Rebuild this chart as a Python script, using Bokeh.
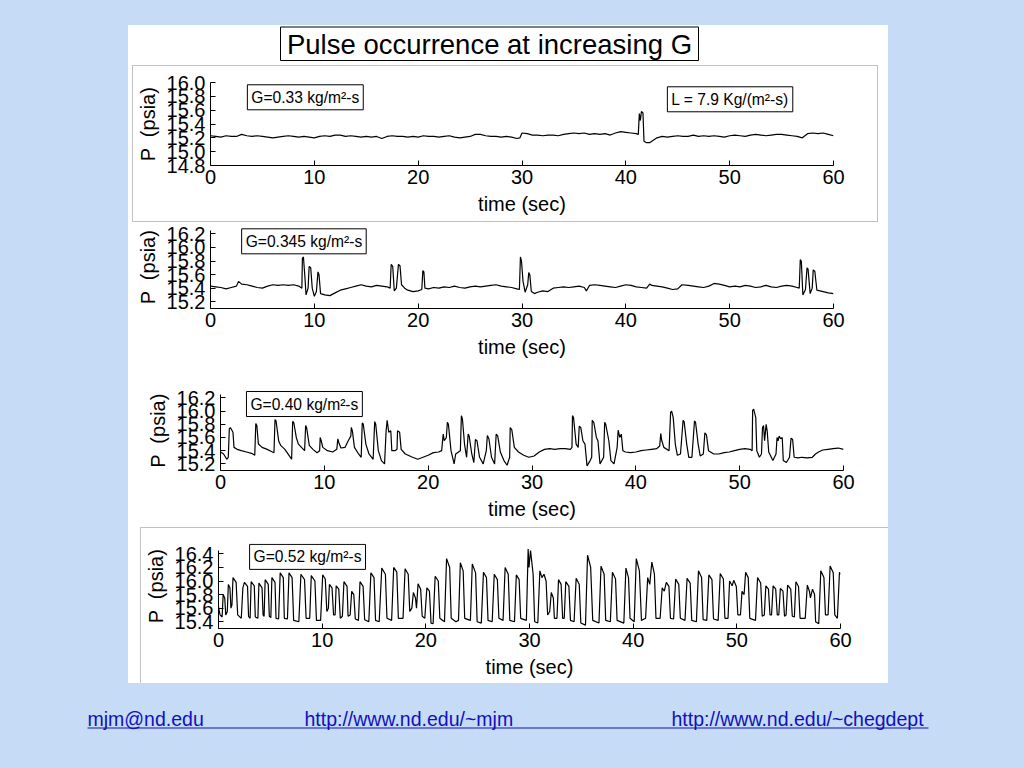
from bokeh.plotting import figure
from bokeh.layouts import column, row
from bokeh.models import (Range1d, FixedTicker, PrintfTickFormatter, Label, Spacer)
from bokeh.embed import file_html
from bokeh.resources import INLINE
from bokeh.core.properties import value

# ---------------- data ----------------
x_ticks = [0, 10, 20, 30, 40, 50, 60]
y_ticks_1 = [14.8, 15.0, 15.2, 15.4, 15.6, 15.8, 16.0]
y_ticks_2 = [15.2, 15.4, 15.6, 15.8, 16.0, 16.2]
y_ticks_3 = [15.2, 15.4, 15.6, 15.8, 16.0, 16.2]
y_ticks_4 = [15.4, 15.6, 15.8, 16.0, 16.2, 16.4]

title_text = "Pulse occurrence at increasing G"
labels_G = ["G=0.33 kg/m\u00b2-s", "G=0.345 kg/m\u00b2-s",
            "G=0.40 kg/m\u00b2-s", "G=0.52 kg/m\u00b2-s"]
label_L = "L = 7.9 Kg/(m\u00b2-s)"
footer_items = ["mjm@nd.edu", "http://www.nd.edu/~mjm", "http://www.nd.edu/~chegdept"]

# G = 0.33 kg/m2-s  (time s, pressure psia)
g033 = [(0,15.23),(0.5,15.22),(1,15.21),(1.5,15.23),(2,15.22),(2.5,15.22),(3,15.25),(3.5,15.23),
        (4,15.22),(4.5,15.23),(5,15.22),(5.5,15.21),(6,15.2),(6.5,15.21),(7,15.22),(7.5,15.23),
        (8,15.22),(8.5,15.21),(9,15.22),(9.5,15.21),(10,15.2),(10.5,15.22),(11,15.23),(11.5,15.22),
        (12,15.24),(12.5,15.24),(13,15.22),(13.5,15.23),(14,15.22),(14.5,15.21),(15,15.22),(15.5,15.21),
        (16,15.22),(16.5,15.19),(17,15.22),(17.5,15.23),(18,15.22),(18.5,15.22),(19,15.21),(19.5,15.22),
        (20,15.21),(20.5,15.23),(21,15.22),(21.5,15.22),(22,15.21),(22.5,15.22),(23,15.23),(23.5,15.21),
        (24,15.2),(24.5,15.21),(25,15.22),(25.5,15.25),(26,15.25),(26.5,15.23),(27,15.22),(27.5,15.22),
        (28,15.21),(28.5,15.22),(29,15.21),(29.5,15.19),(29.8,15.2),(30,15.27),(30.5,15.26),(31,15.24),
        (31.5,15.24),(32,15.23),(32.5,15.24),(33,15.24),(33.5,15.23),(34,15.25),(34.5,15.26),(35,15.27),
        (35.5,15.26),(36,15.27),(36.5,15.25),(37,15.26),(37.5,15.25),(38,15.26),(38.5,15.24),(39,15.27),
        (39.5,15.29),(40,15.28),(40.5,15.27),(41,15.26),(41.2,15.25),(41.3,15.55),(41.4,15.45),(41.5,15.58),
        (41.65,15.56),(41.75,15.15),(42,15.13),(42.3,15.13),(42.5,15.15),(43,15.2),(43.5,15.22),(44,15.21),
        (44.5,15.22),(45,15.23),(45.5,15.22),(46,15.22),(46.5,15.24),(47,15.22),(47.5,15.23),(48,15.22),
        (48.5,15.23),(49,15.22),(49.5,15.21),(50,15.23),(50.5,15.24),(51,15.23),(51.5,15.22),(52,15.24),
        (52.5,15.25),(53,15.24),(53.5,15.23),(54,15.24),(54.5,15.25),(55,15.25),(55.5,15.24),(56,15.23),
        (56.5,15.22),(57,15.2),(57.5,15.26),(58,15.27),(58.5,15.26),(59,15.27),(59.5,15.25),(60,15.23)]

# G = 0.345 kg/m2-s
g0345 = [(0,15.43),(0.5,15.42),(1,15.41),(1.5,15.39),(2,15.41),(2.5,15.43),(2.7,15.5),(3,15.46),
         (3.5,15.45),(4,15.43),(4.5,15.41),(5,15.4),(5.5,15.43),(6,15.45),(6.5,15.44),(7,15.45),
         (7.5,15.44),(8,15.45),(8.5,15.43),(8.8,15.4),(8.85,15.84),(8.95,15.86),(9.1,15.55),(9.2,15.3),
         (9.4,15.4),(9.5,15.72),(9.65,15.7),(9.8,15.4),(10.0,15.28),(10.2,15.35),(10.35,15.64),(10.45,15.6),
         (10.6,15.32),(11,15.3),(11.5,15.29),(12,15.33),(12.5,15.37),(13,15.39),(13.5,15.41),(14,15.43),
         (14.5,15.45),(15,15.43),(15.5,15.42),(16,15.44),(16.5,15.43),(17,15.42),(17.3,15.4),(17.4,15.75),
         (17.55,15.72),(17.7,15.36),(17.9,15.4),(18.1,15.75),(18.25,15.73),(18.4,15.45),(18.7,15.4),(19,15.37),
         (19.5,15.35),(20,15.36),(20.35,15.38),(20.45,15.66),(20.55,15.64),(20.65,15.4),(21,15.39),(21.5,15.41),
         (22,15.4),(22.5,15.42),(23,15.41),(23.5,15.43),(24,15.41),(24.5,15.4),(25,15.42),(25.5,15.43),
         (26,15.42),(26.5,15.43),(27,15.44),(27.5,15.45),(28,15.43),(28.5,15.42),(29,15.41),(29.5,15.39),
         (29.75,15.38),(29.85,15.86),(29.95,15.8),(30.1,15.5),(30.3,15.34),(30.55,15.45),(30.65,15.63),(30.75,15.6),
         (30.9,15.35),(31.2,15.32),(31.5,15.34),(32,15.36),(32.5,15.35),(33,15.4),(33.5,15.41),(34,15.42),
         (34.5,15.41),(35,15.42),(35.5,15.43),(36,15.41),(36.2,15.36),(36.5,15.44),(37,15.45),(37.5,15.44),
         (38,15.43),(38.5,15.42),(39,15.41),(39.5,15.43),(40,15.45),(40.5,15.44),(41,15.42),(41.5,15.41),
         (42,15.4),(42.3,15.46),(42.5,15.44),(43,15.43),(43.5,15.42),(44,15.4),(44.5,15.38),(45,15.39),
         (45.4,15.45),(46,15.44),(46.5,15.43),(47,15.42),(47.5,15.41),(48,15.43),(48.5,15.47),(49,15.46),
         (49.5,15.44),(50,15.42),(50.5,15.43),(51,15.42),(51.5,15.44),(52,15.43),(52.5,15.41),(53,15.42),
         (53.5,15.44),(54,15.42),(54.5,15.41),(55,15.43),(55.5,15.44),(56,15.43),(56.5,15.41),(56.7,15.4),
         (56.8,15.82),(56.9,15.8),(57.05,15.3),(57.3,15.38),(57.45,15.7),(57.55,15.68),(57.75,15.32),(57.95,15.4),
         (58.05,15.67),(58.2,15.65),(58.4,15.37),(58.7,15.36),(59,15.35),(59.5,15.33),(60,15.32)]

# G = 0.40 kg/m2-s
g040 = [(0,15.38),(0.3,15.35),(0.6,15.27),(0.75,15.3),(0.85,15.73),(0.95,15.75),(1.2,15.68),(1.3,15.45),
        (1.6,15.42),(2,15.4),(2.5,15.38),(3,15.36),(3.3,15.33),(3.4,15.81),(3.5,15.78),(3.65,15.5),
        (4,15.45),(4.5,15.42),(5,15.38),(5.15,15.37),(5.25,15.87),(5.35,15.85),(5.6,15.55),(5.8,15.48),
        (6.2,15.42),(6.6,15.33),(6.85,15.27),(6.95,15.84),(7.05,15.83),(7.3,15.6),(7.5,15.5),(7.8,15.45),
        (8.1,15.4),(8.2,15.78),(8.3,15.74),(8.55,15.48),(8.9,15.42),(9.3,15.37),(9.55,15.4),(9.6,15.6),
        (9.7,15.55),(9.85,15.45),(10.3,15.4),(10.8,15.38),(11.2,15.42),(11.3,15.58),(11.4,15.52),(11.6,15.44),
        (12,15.45),(12.3,15.55),(12.55,15.62),(12.6,15.75),(12.7,15.7),(12.9,15.45),(13.3,15.35),(13.55,15.3),
        (13.65,15.82),(13.75,15.8),(14.0,15.5),(14.3,15.35),(14.7,15.27),(14.85,15.84),(14.95,15.8),(15.2,15.4),
        (15.5,15.25),(15.8,15.2),(15.95,15.7),(16.05,15.86),(16.2,15.68),(16.4,15.7),(16.5,15.4),(16.8,15.4),
        (17.0,15.42),(17.05,15.7),(17.25,15.68),(17.4,15.42),(17.8,15.35),(18.5,15.3),(19,15.27),(19.5,15.3),
        (20,15.33),(20.5,15.37),(21,15.38),(21.3,15.4),(21.45,15.65),(21.55,15.55),(21.75,15.6),(21.85,15.83),
        (21.95,15.8),(22.2,15.4),(22.5,15.2),(22.65,15.35),(23.1,15.4),(23.2,15.93),(23.3,15.88),(23.5,15.5),
        (23.7,15.3),(23.85,15.65),(23.95,15.62),(24.2,15.35),(24.4,15.22),(24.55,15.57),(24.7,15.55),(24.95,15.3),
        (25.3,15.2),(25.6,15.4),(25.7,15.63),(25.85,15.58),(26.1,15.3),(26.4,15.2),(26.55,15.65),(26.7,15.62),
        (26.95,15.38),(27.3,15.25),(27.6,15.18),(27.85,15.3),(27.9,15.75),(28.05,15.72),(28.3,15.45),(28.7,15.38),
        (29.2,15.33),(29.7,15.3),(30.2,15.32),(30.7,15.38),(31.2,15.42),(31.7,15.43),(32.2,15.42),(32.7,15.43),
        (33.2,15.43),(33.7,15.42),(33.85,15.45),(33.9,15.93),(34.0,15.9),(34.25,15.5),(34.45,15.45),(34.55,15.77),
        (34.7,15.75),(34.9,15.55),(35.1,15.5),(35.3,15.17),(35.6,15.25),(35.75,15.3),(35.8,15.86),(35.95,15.83),
        (36.2,15.6),(36.35,15.55),(36.55,15.2),(36.9,15.3),(37.0,15.83),(37.1,15.8),(37.4,15.55),(37.6,15.25),
        (37.9,15.2),(38.2,15.45),(38.3,15.71),(38.45,15.6),(38.6,15.65),(38.75,15.4),(39.0,15.38),(39.5,15.37),
        (40,15.38),(40.5,15.4),(41,15.41),(41.5,15.42),(42,15.43),(42.3,15.47),(42.4,15.66),(42.5,15.55),
        (42.7,15.45),(43.2,15.4),(43.35,15.98),(43.45,16.0),(43.6,15.9),(43.8,15.5),(44.0,15.33),(44.3,15.35),
        (44.55,15.86),(44.65,15.84),(44.9,15.5),(45.1,15.3),(45.4,15.3),(45.65,15.85),(45.75,15.83),(46.0,15.5),
        (46.2,15.32),(46.5,15.35),(46.65,15.67),(46.8,15.64),(47.0,15.4),(47.5,15.35),(48,15.35),(48.5,15.37),
        (49,15.38),(49.5,15.4),(50,15.42),(50.5,15.43),(51,15.42),(51.2,15.4),(51.25,16.01),(51.35,16.03),
        (51.55,15.9),(51.65,15.4),(51.9,15.3),(52.1,15.35),(52.2,15.75),(52.3,15.78),(52.4,15.55),(52.55,15.8),
        (52.65,15.7),(52.8,15.38),(53.2,15.25),(53.5,15.35),(53.6,15.6),(53.7,15.55),(53.8,15.62),(53.95,15.58),
        (54.1,15.6),(54.2,15.25),(54.5,15.22),(54.8,15.3),(54.95,15.59),(55.1,15.57),(55.25,15.3),(55.6,15.29),
        (56,15.3),(56.5,15.29),(57,15.3),(57.3,15.35),(57.6,15.38),(58,15.41),(58.5,15.42),(59,15.43),
        (59.5,15.44),(60,15.42)]

# G = 0.52 kg/m2-s
g052 = [(0.0,15.62),(0.15,15.5),(0.35,15.47),(0.45,15.8),(0.6,15.75),(0.7,15.5),(0.85,15.55),(0.95,15.95),
        (1.1,15.9),(1.2,15.6),(1.3,15.65),(1.4,16.05),(1.7,15.98),(1.85,15.5),(2.2,15.45),(2.35,15.9),
        (2.5,15.98),(2.8,15.92),(2.9,15.48),(3.05,15.45),(3.15,15.99),(3.45,15.93),(3.55,15.47),(3.8,15.45),
        (3.9,15.97),(4.2,15.9),(4.3,15.5),(4.4,15.48),(4.5,16.02),(4.8,15.95),(4.9,15.48),(5.05,15.46),
        (5.15,16.05),(5.45,15.98),(5.55,15.45),(5.8,15.44),(5.95,16.12),(6.25,16.05),(6.35,15.45),(6.65,15.44),
        (6.8,16.12),(7.1,16.05),(7.25,15.42),(7.75,15.4),(7.95,16.1),(8.3,16.02),(8.45,15.45),(8.8,15.45),
        (8.95,16.08),(9.3,16.0),(9.45,15.42),(9.85,15.42),(10.05,16.09),(10.3,16.03),(10.45,15.55),(10.6,15.6),
        (10.7,15.95),(10.95,15.9),(11.1,15.5),(11.25,15.5),(11.35,15.93),(11.6,15.88),(11.75,15.45),(11.95,15.48),
        (12.1,15.99),(12.4,15.92),(12.5,15.48),(12.7,15.5),(12.85,15.85),(13.05,15.8),(13.2,15.44),(13.5,15.42),
        (13.65,15.99),(13.95,15.92),(14.1,15.43),(14.5,15.4),(14.7,16.12),(15.0,16.05),(15.15,15.42),(15.5,15.4),
        (15.75,16.19),(16.1,16.1),(16.25,15.45),(16.7,15.42),(16.9,16.2),(17.2,16.13),(17.35,15.45),(17.8,15.45),
        (18.0,16.18),(18.3,16.1),(18.45,15.55),(18.65,15.6),(18.8,15.83),(19.0,15.75),(19.1,15.6),(19.25,15.96),
        (19.5,15.88),(19.65,15.48),(19.9,15.45),(20.1,15.9),(20.35,15.85),(20.5,15.38),(20.7,15.37),(20.9,16.07),
        (21.2,16.0),(21.35,15.45),(21.8,15.4),(22.0,16.33),(22.3,16.2),(22.45,15.45),(22.9,15.4),(23.15,15.42),
        (23.33,16.27),(23.6,16.15),(23.75,15.45),(24.3,15.42),(24.48,16.25),(24.8,16.12),(24.95,15.4),(25.35,15.38),
        (25.56,16.13),(25.85,16.05),(26.0,15.42),(26.4,15.4),(26.6,16.1),(26.9,16.02),(27.05,15.45),(27.45,15.42),
        (27.65,16.2),(27.95,16.1),(28.1,15.42),(28.55,15.4),(28.73,16.09),(29.0,16.02),(29.15,15.45),(29.7,15.42),
        (29.87,16.47),(29.95,16.2),(30.1,16.45),(30.35,16.1),(30.5,15.4),(30.8,15.38),(31.0,16.15),(31.2,16.05),
        (31.4,16.1),(31.6,16.0),(31.75,15.5),(31.95,15.55),(32.1,15.83),(32.3,15.75),(32.4,15.45),(32.65,15.45),
        (32.8,16.02),(33.05,15.95),(33.2,15.45),(33.35,15.45),(33.5,15.99),(33.8,15.92),(33.95,15.42),(34.3,15.4),
        (34.5,16.04),(34.8,15.95),(34.95,15.38),(35.4,15.35),(35.6,16.38),(35.9,16.2),(36.1,15.42),(36.7,15.38),
        (36.9,16.22),(37.2,16.1),(37.35,15.42),(37.8,15.4),(38.0,16.13),(38.3,16.03),(38.45,15.42),(39.1,15.38),
        (39.3,16.19),(39.55,16.05),(39.7,15.45),(40.1,15.4),(40.3,16.33),(40.6,16.15),(40.8,15.42),(41.2,15.45),
        (41.4,16.05),(41.6,15.95),(41.8,16.28),(42.05,16.1),(42.2,15.45),(42.6,15.45),(42.8,15.9),(43.0,15.85),
        (43.2,15.98),(43.45,15.92),(43.6,15.45),(43.9,15.44),(44.1,16.03),(44.4,15.95),(44.55,15.45),(45.0,15.42),
        (45.2,16.04),(45.5,15.97),(45.65,15.42),(46.1,15.4),(46.3,16.15),(46.6,16.05),(46.75,15.43),(47.1,15.42),
        (47.3,16.09),(47.6,16.02),(47.75,15.44),(48.2,15.42),(48.4,16.11),(48.7,16.03),(48.85,15.45),(49.15,15.45),
        (49.3,16.0),(49.55,15.93),(49.7,16.01),(49.95,15.92),(50.1,15.5),(50.35,15.5),(50.5,15.85),(50.7,15.8),
        (50.85,16.13),(51.1,16.05),(51.25,15.45),(51.8,15.42),(52.0,16.05),(52.3,15.97),(52.45,15.48),(52.65,15.5),
        (52.8,15.93),(53.05,15.88),(53.2,15.5),(53.35,15.5),(53.5,15.93),(53.75,15.88),(53.9,15.5),(54.05,15.5),
        (54.2,15.89),(54.45,15.85),(54.6,15.48),(54.75,15.5),(54.9,15.94),(55.2,15.88),(55.35,15.48),(55.55,15.47),
        (55.7,15.99),(55.95,15.92),(56.1,15.45),(56.6,15.45),(56.8,15.94),(57.0,15.85),(57.1,15.75),(57.3,15.88),
        (57.5,15.8),(57.6,15.4),(57.9,15.37),(58.1,16.15),(58.4,16.05),(58.55,15.5),(58.8,15.5),(59.0,16.22),
        (59.3,16.12),(59.45,15.5),(59.7,15.45),(59.9,16.13),(60.0,16.1)]

# ---------------- styling ----------------
BLUE = "#c6dbf6"
FONT = "Liberation Sans"
LINK = "#1010c0"
FRAME_W = 623
WHITE = {"background-color": "white"}
GRAY = {"background-color": "#c2c2c2"}


def panel(series, y_range, y_bounds, y_ticks, width, height, left, top, bottom):
    p = figure(width=width, height=height, x_range=Range1d(0, 60), y_range=Range1d(*y_range),
               output_backend="svg", toolbar_location=None,
               min_border_left=left, min_border_right=width - left - FRAME_W,
               min_border_top=top, min_border_bottom=bottom)
    p.background_fill_color = "white"
    p.border_fill_color = "white"
    p.outline_line_color = None
    p.grid.visible = False
    t = [a for a, b in series]
    v = [b for a, b in series]
    p.line(t, v, line_color="black", line_width=1.2)

    for ax in (p.xaxis[0], p.yaxis[0]):
        ax.major_tick_in = 5
        ax.major_tick_out = 0
        ax.minor_tick_line_color = None
        ax.axis_line_color = "black"
        ax.major_tick_line_color = "black"
        ax.major_label_text_font = FONT
        ax.major_label_text_font_size = "20px"
        ax.major_label_text_color = "black"
        ax.axis_label_text_font = FONT
        ax.axis_label_text_font_size = "20px"
        ax.axis_label_text_font_style = "normal"
        ax.axis_label_text_color = "black"
    p.xaxis.ticker = FixedTicker(ticks=x_ticks)
    p.xaxis.axis_label = "time (sec)"
    p.xaxis.major_label_standoff = 4
    p.xaxis.axis_label_standoff = 6
    p.yaxis.ticker = FixedTicker(ticks=y_ticks)
    p.yaxis.bounds = y_bounds
    p.yaxis.formatter = PrintfTickFormatter(format="%.1f")
    p.yaxis.axis_label = "P \u00a0(psia)"
    p.yaxis.major_label_standoff = 5
    p.yaxis.axis_label_standoff = 5
    return p


def tag(p, x, y, text):
    p.add_layout(Label(x=x, y=y, text=text, text_font=FONT, text_font_size="15.6px",
                       text_color="black", text_align="left", text_baseline="top",
                       border_line_color="black", border_line_width=1,
                       background_fill_color="white", padding=4))


def sp(w, h, st=WHITE):
    return Spacer(width=w, height=h, styles=st)


# title strip  (y 25..63)
pt = figure(width=760, height=38, x_range=Range1d(0, 760), y_range=Range1d(38, 0),
            output_backend="svg", toolbar_location=None, x_axis_type=None, y_axis_type=None,
            min_border=0)
pt.background_fill_color = "white"
pt.border_fill_color = "white"
pt.outline_line_color = None
pt.grid.visible = False
pt.quad(left=[152], right=[570], top=[1.5], bottom=[35], fill_color="white",
        line_color="black", line_width=1)
pt.text(x=[361], y=[18.5], text=[title_text], text_font=value(FONT), text_font_size="27.5px",
        text_align="center", text_baseline="middle", text_color="black")

# panel 1: figure x 133..877, y 66..221 (framed by thin gray lines)
p1 = panel(g033, (14.8, 16.0), (14.8, 16.0), y_ticks_1, 744, 155, 77, 16, 56)
tag(p1, 3.55, 15.967, labels_G[0])
tag(p1, 44.0, 15.938, label_L)

# panel 2: y 222..375
p2 = panel(g0345, (15.1, 16.324), (15.1, 16.25), y_ticks_2, 760, 153, 82, 3, 67)
tag(p2, 3.0, 16.275, labels_G[1])

# panel 3: y 375..527
p3 = panel(g040, (15.1, 16.3105), (15.1, 16.25), y_ticks_3, 760, 152, 92, 15, 57)
tag(p3, 2.5, 16.295, labels_G[2])

# panel 4: figure x 141..888, y 528..683
p4 = panel(g052, (15.3, 16.553), (15.3, 16.45), y_ticks_4, 747, 155, 76, 15, 55)
tag(p4, 3.0, 16.54, labels_G[3])

# footer
pf = figure(width=1024, height=85, x_range=Range1d(0, 1024), y_range=Range1d(768, 683),
            output_backend="svg", toolbar_location=None, x_axis_type=None, y_axis_type=None,
            min_border=0)
pf.background_fill_color = BLUE
pf.border_fill_color = BLUE
pf.outline_line_color = None
pf.grid.visible = False
pf.text(x=[87, 304, 671], y=[718, 718, 718], text=footer_items, text_font=value(FONT),
        text_font_size="19.5px", text_align="left", text_baseline="middle", text_color=LINK)
pf.segment(x0=[87], y0=[727.5], x1=[928], y1=[727.5], line_color=LINK, line_width=1)

white_panel = column(
    row(pt),
    sp(760, 2),
    row(sp(4, 1), sp(746, 1, GRAY), sp(10, 1)),
    row(sp(4, 155), sp(1, 155, GRAY), p1, sp(1, 155, GRAY), sp(10, 155)),
    row(sp(4, 1), sp(746, 1, GRAY), sp(10, 1)),
    row(p2),
    row(p3),
    row(sp(12, 1), sp(748, 1, GRAY)),
    row(sp(12, 155), sp(1, 155, GRAY), p4),
    spacing=0, styles=WHITE)

layout = column(Spacer(width=1024, height=25),
                row(Spacer(width=128, height=658), white_panel, spacing=0),
                pf, spacing=0)

html = file_html(layout, INLINE)
html = html.replace("<head>", "<head><style>html,body{background-color:%s;margin:0;}</style>" % BLUE, 1)
open("out.html", "w").write(html)
